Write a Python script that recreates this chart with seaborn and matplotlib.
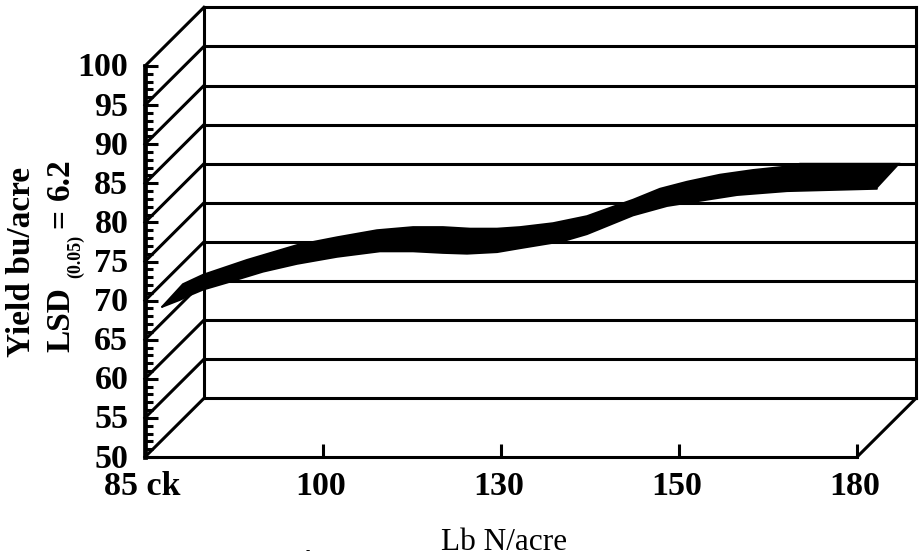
import numpy as np
import pandas as pd
import matplotlib.pyplot as plt
from matplotlib.transforms import ScaledTranslation
import seaborn as sns

# chart values, x is the position along the equally spaced N rates
rates = ["85 ck", "100", "130", "150", "180"]
yield_ticks = [50, 55, 60, 65, 70, 75, 80, 85, 90, 95, 100]

upper_x = [0.096, 0.213, 0.326, 0.573, 0.854, 1.079, 1.303, 1.506, 1.674, 1.826, 1.978, 2.107,
           2.292, 2.483, 2.629, 2.742, 2.893, 3.045, 3.230, 3.416, 3.584, 3.680, 4.242]
upper_y = [69.2, 72.1, 73.3, 75.2, 77.1, 78.1, 79.0, 79.4, 79.4, 79.2, 79.2, 79.4,
           79.9, 80.8, 82.0, 82.9, 84.3, 85.2, 86.1, 86.7, 87.1, 87.5, 87.5]
lower_x = [0.096, 0.197, 0.253, 0.326, 0.461, 0.663, 0.854, 1.079, 1.320, 1.506, 1.674, 1.809,
           1.978, 2.107, 2.348, 2.483, 2.742, 2.933, 3.045, 3.326, 3.607, 4.112]
lower_y = [69.2, 70.1, 70.7, 71.4, 72.3, 73.7, 74.7, 75.6, 76.3, 76.3, 76.1, 76.0,
           76.2, 76.7, 77.6, 78.5, 80.9, 82.1, 82.5, 83.5, 84.0, 84.3]

# 3d look: how far the back wall sits from the front axis
depth_x = 0.331
depth_y = 7.5

W, H = 920, 557

sns.set_theme(style="white")
plt.rcParams["font.family"] = ["Liberation Serif", "DejaVu Serif"]
plt.rcParams["text.color"] = "black"
plt.rcParams["xtick.color"] = "black"
plt.rcParams["ytick.color"] = "black"
plt.rcParams["axes.edgecolor"] = "black"

fig = plt.figure(figsize=(W / 100, H / 100), dpi=100)
ax = fig.add_axes([145 / W, (H - 457) / H, 712 / W, 391 / H])
ax.set_xlim(0, len(rates) - 1)
ax.set_ylim(yield_ticks[0], yield_ticks[-1])
ax.patch.set_visible(False)

lw = 2.2
kw = dict(color="black", lw=lw, clip_on=False, solid_capstyle="projecting", zorder=2)

# back wall and side wall
right = len(rates) - 1
for v in yield_ticks:
    ax.plot([depth_x, right + depth_x], [v + depth_y, v + depth_y], **kw)
    ax.plot([0, depth_x], [v, v + depth_y], **kw)
ax.plot([depth_x, depth_x], [50 + depth_y, 100 + depth_y], **kw)
ax.plot([right + depth_x, right + depth_x], [50 + depth_y, 100 + depth_y], **kw)
ax.plot([right, right + depth_x], [50, 50 + depth_y], **kw)

# yield band
band_x = upper_x + lower_x[::-1]
band_y = upper_y + lower_y[::-1]
ax.fill(band_x, band_y, color="black", lw=0, clip_on=False, zorder=3)
edges = pd.concat([
    pd.DataFrame({"x": upper_x, "y": upper_y, "edge": "upper"}),
    pd.DataFrame({"x": lower_x, "y": lower_y, "edge": "lower"}),
])
sns.lineplot(data=edges, x="x", y="y", units="edge", estimator=None, sort=False,
             color="black", lw=1.4, ax=ax, clip_on=False, zorder=3)

# axes
sns.despine(ax=ax)
ax.spines["left"].set_linewidth(3.4)
ax.spines["bottom"].set_linewidth(lw)
ax.set_xticks(range(len(rates)))
ax.set_xticklabels(rates)
ax.set_yticks(yield_ticks)
ax.set_yticks([v for v in range(50, 101) if v % 5], minor=True)
ax.tick_params(axis="y", which="major", direction="in", length=9.5, width=2.2, pad=12,
               left=True, labelsize=24.5)
ax.tick_params(axis="y", which="minor", direction="in", length=6, width=2.2, left=True)
ax.tick_params(axis="x", direction="in", length=9.5, width=2.2, pad=10, bottom=True, labelsize=24.5)
ax.set_xlabel("")
ax.set_ylabel("")

# the labels sit a little off their ticks in the original
nudge_x = ScaledTranslation(-2.5 / 100, 0, fig.dpi_scale_trans)
nudge_y = ScaledTranslation(0, 1.5 / 100, fig.dpi_scale_trans)
for t in ax.get_xticklabels():
    t.set_fontweight("bold")
    t.set_transform(t.get_transform() + nudge_x)
for t in ax.get_yticklabels():
    t.set_fontweight("bold")
    t.set_transform(t.get_transform() + nudge_y)


def px_text(x, y, s, **opts):
    fig.text(x / W, 1 - y / H, s, rotation_mode="anchor", **opts)


rot = dict(rotation=90, ha="left", va="baseline", fontweight="bold")
px_text(30, 357, "Yield bu/acre", fontsize=24, **rot)
px_text(69, 352, "LSD", fontsize=24, **rot)
px_text(80, 278, "(0.05)", fontsize=13, **rot)
px_text(69, 228, "=", fontsize=24, **rot)
px_text(69, 200, "6.2", fontsize=24, **rot)

px_text(504, 550, "Lb N/acre", fontsize=22.5, ha="center", va="baseline")
px_text(308, 554, "-", fontsize=9, ha="center", va="baseline")

fig.savefig("out.png", dpi=100)
